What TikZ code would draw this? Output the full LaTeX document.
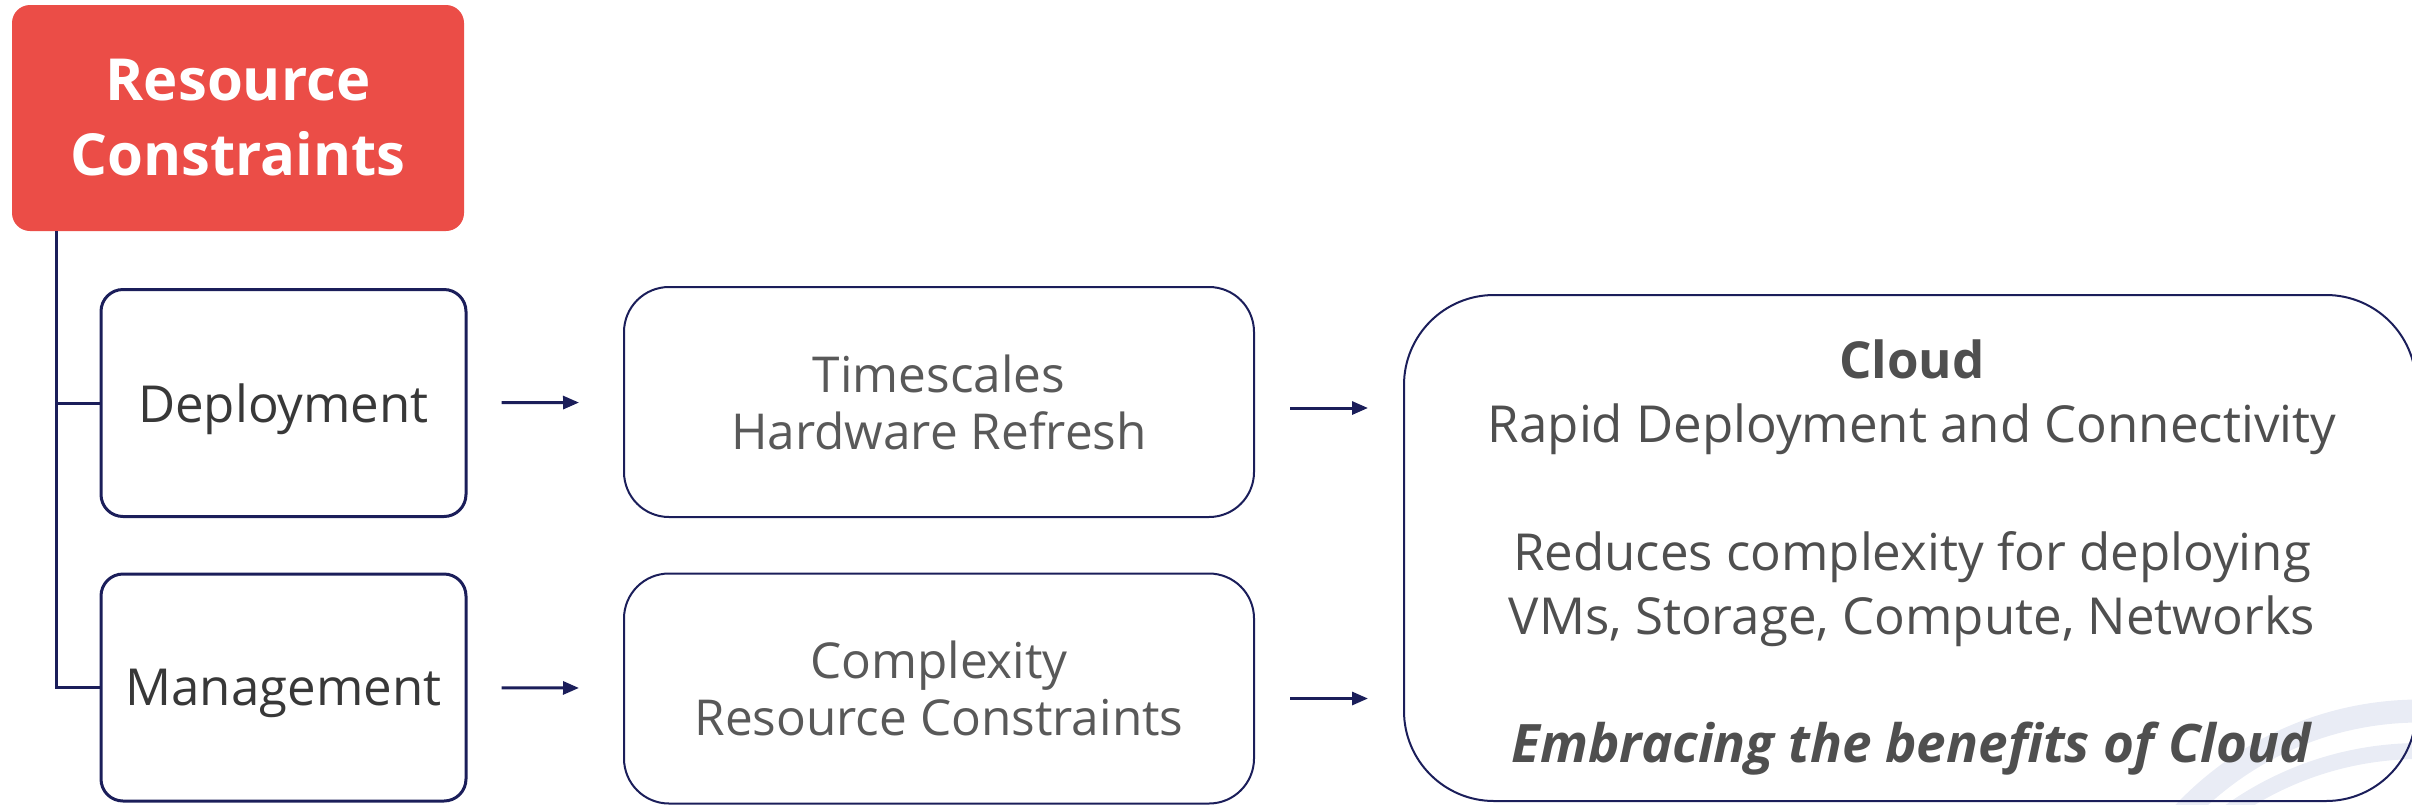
\documentclass[tikz,border=0pt]{standalone}
\usepackage{fontspec}
\setmainfont{Open Sans}
\usetikzlibrary{arrows.meta}
\definecolor{navy}{HTML}{1B1E5A}
\definecolor{crimson}{HTML}{EB4D47}
\definecolor{darktext}{HTML}{383838}
\definecolor{greytext}{HTML}{595959}
\definecolor{cloudtext}{HTML}{4F4F4F}
\definecolor{paleband}{HTML}{E9ECF5}
\begin{document}
\begin{tikzpicture}
    [
    x=1pt,y=-1pt,
    redbox/.style={rectangle,rounded corners=18pt,fill=crimson,text=white,inner sep=0pt,minimum width=452pt,minimum height=226pt,align=center,font=\fontsize{58}{75}\selectfont\bfseries},
    smallbox/.style={rectangle,rounded corners=22pt,draw=navy,line width=3pt,text=darktext,inner sep=0pt,text depth=0pt,minimum width=365pt,minimum height=227pt,font=\fontsize{51}{60}\selectfont},
    midbox/.style={rectangle,rounded corners=45pt,draw=navy,line width=2pt,text=greytext,inner sep=0pt,minimum width=630pt,minimum height=230pt,align=center,font=\fontsize{49.5}{57}\selectfont},
    bigbox/.style={rectangle,rounded corners=90pt,draw=navy,line width=2pt,inner sep=0pt,minimum width=1012pt,minimum height=506pt},
    bigtext/.style={text=cloudtext,inner sep=0pt,align=center,font=\fontsize{51}{64}\selectfont},
    link/.style={draw=navy,line width=3pt},
    arr/.style={draw=navy,line width=3pt,-{Triangle[length=16pt,width=13pt]}},
    band/.style={draw=paleband}
    ]
    \useasboundingbox (0,0) rectangle (2412,804);
    \begin{scope}
      \clip (0,0) rectangle (2412,804);
      \draw [band,line width=23pt] (2420,1036) circle [radius=325];
      \draw [band,line width=16pt] (2420,1079) circle [radius=328];
    \end{scope}
    \node (rc) at (238,118) [redbox] {Resource\\Constraints};
    \node (dep) at (283.5,403) [smallbox] {Deployment};
    \node (man) at (283.5,687.5) [smallbox] {Management};
    \node (time) at (939,402) [midbox] {Timescales\\Hardware Refresh};
    \node (cmplx) at (939,688.5) [midbox] {Complexity\\Resource Constraints};
    \node (cloud) at (1910,548) [bigbox] {};
    \node (benefits) at (1912,557) [bigtext] {\textbf{Cloud}\\Rapid Deployment and Connectivity\\[64pt]Reduces complexity for deploying\\VMs, Storage, Compute, Networks\\[64pt]{\fontsize{53}{64}\selectfont\textbf{\textit{Embracing the benefits of Cloud}}}};
    \draw [link] ([xshift=45pt]rc.south west) |- (dep.west);
    \draw [link] ([xshift=45pt]rc.south west) |- (man.west);
    \draw [arr,shorten <=34pt,shorten >=44pt] (dep) to (time);
    \draw [arr,shorten <=34pt,shorten >=44pt] (man) to (cmplx);
    \draw [arr,shorten <=35pt,shorten >=35pt] ([yshift=-6pt]time.east) to ([yshift=-6pt]time.east -| cloud.west);
    \draw [arr,shorten <=35pt,shorten >=35pt] ([yshift=-10pt]cmplx.east) to ([yshift=-10pt]cmplx.east -| cloud.west);
  \end{tikzpicture}
\end{document}
